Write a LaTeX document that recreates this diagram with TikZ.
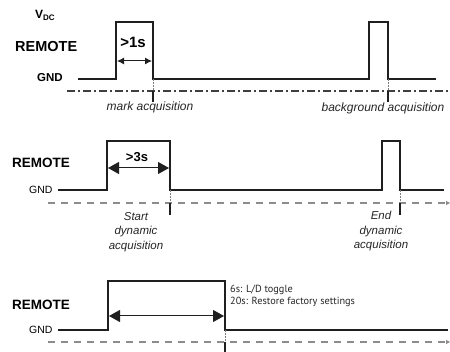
\documentclass[tikz,border=0pt]{standalone}
\usepackage{fontspec}
\setmainfont{Liberation Sans}
\newfontfamily\notefont{PT Sans}
\usetikzlibrary{arrows.meta}
\begin{document}
\begin{tikzpicture}[x=1pt,y=-1pt,
  sig/.style={line width=2pt,draw=black!88,line join=miter},
  lbl/.style={inner sep=0pt,anchor=base west},
  big/.style={font=\fontsize{14.5}{16}\selectfont\bfseries},
  mid/.style={font=\fontsize{13.5}{15}\selectfont\bfseries},
  ital/.style={inner sep=0pt,anchor=base,font=\fontsize{12}{14}\selectfont\itshape,text=black!85},
  itals/.style={inner sep=0pt,anchor=north,align=center,font=\fontsize{11.5}{14.5}\selectfont\itshape,text=black!85},
  dimsmall/.style={line width=1pt,draw=black!88,{Latex[length=7pt,width=7pt]}-{Latex[length=7pt,width=7pt]}},
  dimbig/.style={line width=1pt,draw=black!88,{Triangle[length=11pt,width=12pt]}-{Triangle[length=11pt,width=12pt]}},
  endtip/.style={-{Triangle[length=4pt,width=4pt]}},
  dashdotline/.style={line width=1.2pt,draw=black!75,dash pattern=on 8pt off 3pt on 2pt off 3pt},
  dashline/.style={line width=1.5pt,draw=black!45,dash pattern=on 7pt off 6pt},
  guide/.style={line width=0.5pt,draw=black!50,densely dotted},
  tick/.style={line width=1.6pt,draw=black!88}
]
\useasboundingbox (0,0) rectangle (450,352);
\fill[white] (0,0) rectangle (450,352);

% ---------- panel 1 ----------
\node[lbl,font=\fontsize{12}{13}\selectfont\bfseries] (vdc) at (35,18.5) {V\raisebox{-1.8pt}{\fontsize{8}{9}\selectfont DC}};
\node[lbl,big] (rem1) at (15,52) {REMOTE};
\node[lbl,font=\fontsize{11.5}{13}\selectfont\bfseries] (gnd1) at (37,81.5) {GND};
\coordinate (a0) at (78,79);
\coordinate (a1) at (116,79);
\coordinate (a2) at (116,22);
\coordinate (a3) at (153,22);
\coordinate (a4) at (153,79);
\coordinate (a5) at (369,79);
\coordinate (a6) at (369,22);
\coordinate (a7) at (388,22);
\coordinate (a8) at (388,79);
\coordinate (a9) at (436,79);
\draw[sig] (a0) -- (a1) -- (a2) -- (a3) -- (a4) -- (a5) -- (a6) -- (a7) -- (a8) -- (a9);
\coordinate (d1l) at (117,61);
\coordinate (d1r) at (152,61);
\draw[dimsmall] (d1l) -- (d1r);
\node[inner sep=0pt,anchor=base,font=\fontsize{15}{17}\selectfont\bfseries] (t1) at (133,48) {>1s};
\coordinate (l1a) at (67,91);
\coordinate (l1b) at (450,91);
\draw[dashdotline] (l1a) -- (l1b);
\coordinate (m1) at (153,91); \coordinate (m1e) at (153,102);
\coordinate (m2) at (388,91); \coordinate (m2e) at (388,102);
\draw[guide] (a4) -- (m1);
\draw[guide] (a8) -- (m2);
\draw[tick] (m1) -- (m1e);
\draw[tick] (m2) -- (m2e);
\node[ital] (mark) at (150,111) {mark acquisition};
\node[ital] (bg) at (383,112) {background acquisition};

% ---------- panel 2 ----------
\node[lbl,mid] (rem2) at (12,168) {REMOTE};
\node[lbl,font=\fontsize{10.5}{12}\selectfont] (gnd2) at (29,194) {GND};
\coordinate (b0) at (58,190);
\coordinate (b1) at (107,190);
\coordinate (b2) at (107,141);
\coordinate (b3) at (170,141);
\coordinate (b4) at (170,190);
\coordinate (b5) at (382,190);
\coordinate (b6) at (382,141);
\coordinate (b7) at (400,141);
\coordinate (b8) at (400,190);
\coordinate (b9) at (444,190);
\draw[sig] (b0) -- (b1) -- (b2) -- (b3) -- (b4) -- (b5) -- (b6) -- (b7) -- (b8) -- (b9);
\coordinate (d2l) at (108,168);
\coordinate (d2r) at (169,168);
\draw[dimbig] (d2l) -- (d2r);
\node[inner sep=0pt,anchor=base,font=\fontsize{13}{15}\selectfont\bfseries] (t2) at (137,162) {>3s};
\coordinate (l2a) at (48,203);
\coordinate (l2b) at (450,203);
\draw[dashline,endtip] (l2a) -- (l2b);
\coordinate (n1) at (170,203); \coordinate (n1e) at (170,215);
\coordinate (n2) at (400,203); \coordinate (n2e) at (400,215);
\draw[guide] (b4) -- (n1);
\draw[guide] (b8) -- (n2);
\draw[tick] (n1) -- (n1e);
\draw[tick] (n2) -- (n2e);
\node[itals] (start) at (136,212) {Start\\dynamic\\acquisition};
\node[itals] (end) at (381,211) {End\\dynamic\\acquisition};

% ---------- panel 3 ----------
\node[lbl,mid] (rem3) at (12,310) {REMOTE};
\node[lbl,font=\fontsize{10.5}{12}\selectfont] (gnd3) at (29,334) {GND};
\coordinate (c0) at (58,330);
\coordinate (c1) at (108,330);
\coordinate (c2) at (108,281);
\coordinate (c3) at (225,281);
\coordinate (c4) at (225,330);
\coordinate (c5) at (448,330);
\draw[sig] (c0) -- (c1) -- (c2) -- (c3) -- (c4) -- (c5);
\coordinate (d3l) at (109,316);
\coordinate (d3r) at (224,316);
\draw[dimbig] (d3l) -- (d3r);
\node[lbl,font=\notefont\fontsize{10.3}{12}\selectfont,text=black!85] (note1) at (230,293) {6s: L/D toggle};
\node[lbl,font=\notefont\fontsize{10.3}{12}\selectfont,text=black!85] (note2) at (230,305) {20s: Restore factory settings};
\coordinate (l3a) at (48,342);
\coordinate (l3b) at (450,342);
\draw[dashline,endtip] (l3a) -- (l3b);
\coordinate (o1) at (225,342); \coordinate (o1e) at (225,352);
\draw[guide] (c4) -- (o1);
\draw[tick] (o1) -- (o1e);
\end{tikzpicture}
\end{document}
